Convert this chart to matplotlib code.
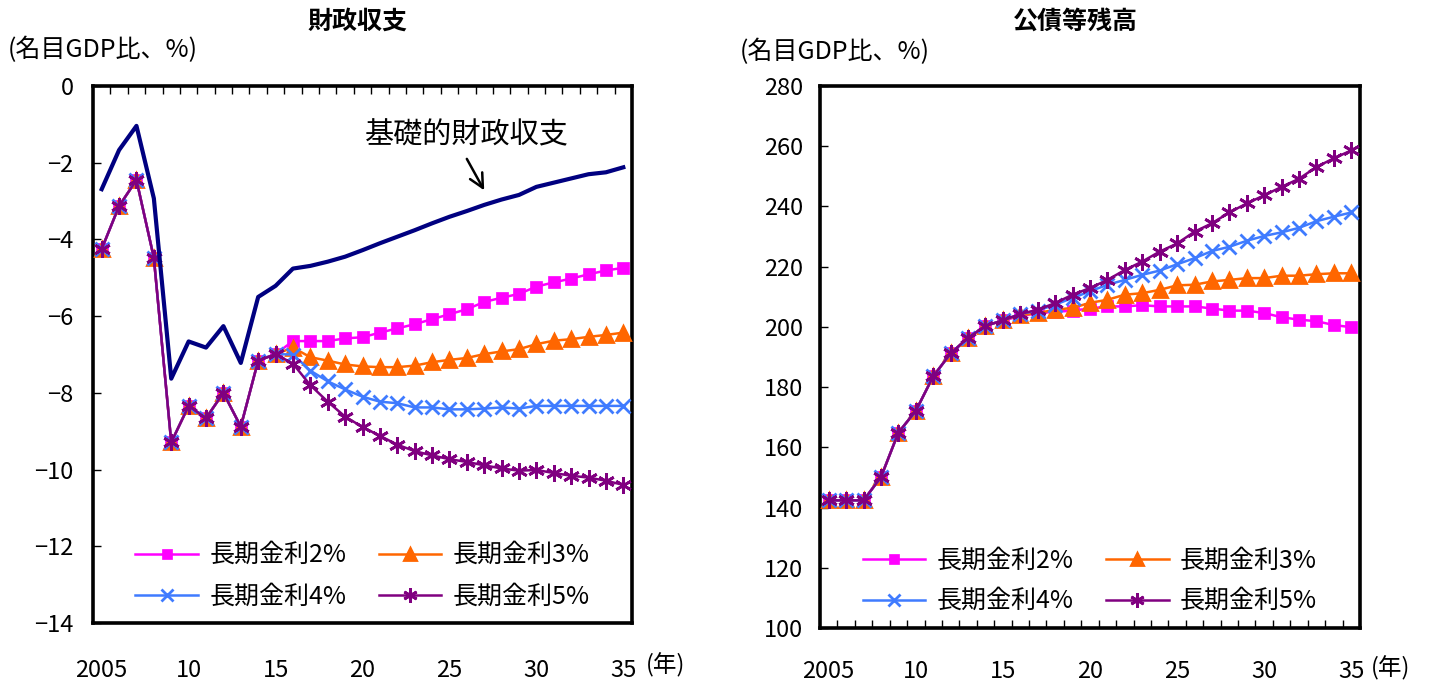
import numpy as np
import matplotlib
matplotlib.use("Agg")
import matplotlib.pyplot as plt

plt.rcParams['font.family'] = ['Noto Sans CJK JP', 'DejaVu Sans']

years = list(range(2005, 2036))

# 財政収支（名目GDP比、%）
primary_balance = [-2.69, -1.67, -1.04, -2.93, -7.63, -6.66, -6.82, -6.26, -7.22, -5.50,
                   -5.21, -4.76, -4.69, -4.58, -4.45, -4.28, -4.10, -3.93, -3.76, -3.58,
                   -3.41, -3.26, -3.10, -2.96, -2.84, -2.63, -2.52, -2.41, -2.30, -2.25, -2.12]
balance_common = [-4.25, -3.13, -2.45, -4.48, -9.29, -8.34, -8.66, -8.00, -8.88, -7.16, -6.99]
balance_2 = [-6.65, -6.65, -6.65, -6.58, -6.55, -6.43, -6.32, -6.21, -6.08, -5.95,
             -5.82, -5.63, -5.52, -5.42, -5.23, -5.12, -5.02, -4.91, -4.81, -4.74]
balance_3 = [-6.82, -7.07, -7.16, -7.26, -7.31, -7.33, -7.33, -7.29, -7.20, -7.14,
             -7.09, -6.99, -6.92, -6.86, -6.73, -6.64, -6.60, -6.54, -6.49, -6.43]
balance_4 = [-7.00, -7.42, -7.70, -7.91, -8.10, -8.23, -8.27, -8.38, -8.38, -8.43,
             -8.43, -8.41, -8.38, -8.41, -8.34, -8.34, -8.34, -8.34, -8.34, -8.34]
balance_5 = [-7.24, -7.80, -8.23, -8.62, -8.89, -9.12, -9.35, -9.52, -9.63, -9.73,
             -9.80, -9.89, -9.97, -10.03, -10.01, -10.09, -10.16, -10.21, -10.29, -10.40]

# 公債等残高（名目GDP比、%）
debt_common = [142.4, 142.4, 142.4, 150.1, 164.9, 172.1, 183.6, 191.2, 196.4, 200.3, 202.2]
debt_2 = [203.5, 204.6, 205.0, 205.4, 206.1, 206.8, 206.8, 207.2, 206.8, 206.8,
          206.8, 206.1, 205.4, 205.4, 204.6, 203.2, 202.4, 201.9, 200.6, 199.9]
debt_3 = [203.9, 204.6, 205.7, 206.3, 208.0, 209.0, 210.7, 211.2, 212.3, 213.8,
          214.0, 215.1, 215.6, 216.2, 216.2, 217.0, 217.0, 217.5, 217.8, 217.8]
debt_4 = [204.3, 205.4, 207.4, 209.6, 211.8, 214.0, 215.6, 217.3, 218.7, 220.8,
          222.8, 225.2, 226.6, 228.6, 230.2, 231.4, 232.9, 235.1, 236.6, 238.0]
debt_5 = [204.3, 205.7, 207.9, 210.7, 212.9, 215.6, 218.9, 221.7, 225.0, 227.7,
          231.6, 234.4, 238.0, 241.0, 243.7, 246.5, 249.2, 253.1, 256.0, 258.6]

labels = ['長期金利2%', '長期金利3%', '長期金利4%', '長期金利5%']
colors = ['#FF00FF', '#FF6600', '#3F7BFF', '#800080']
markers = ['s', '^', 'x', (6, 2, 0)]
msizes = [9, 10, 10, 12]

xtick_years = [2005, 2010, 2015, 2020, 2025, 2030, 2035]
xtick_labels = ['2005', '10', '15', '20', '25', '30', '35']

fig = plt.figure(figsize=(14.36, 6.82), dpi=100)
ax1 = fig.add_axes([93 / 1436, 1 - 623 / 682, 539 / 1436, 537 / 682])
ax2 = fig.add_axes([820 / 1436, 1 - 628 / 682, 540 / 1436, 542 / 682])


def draw_series(ax, common, scenarios):
    lines = []
    for lab, col, mk, ms, tail in zip(labels, colors, markers, msizes, scenarios):
        vals = common + tail
        ln, = ax.plot(years, vals, color=col, lw=1.8, marker=mk, markersize=ms,
                      markeredgewidth=2 if mk != 's' else 0.5, label=lab, zorder=3)
        lines.append(ln)
    return lines


def style_axes(ax, lines, top_ticks):
    ax.set_xlim(2004.5, 2035.5)
    ax.set_xticks(xtick_years)
    ax.set_xticklabels(xtick_labels)
    ax.set_xticks(np.arange(2005.5, 2035, 1), minor=True)
    ax.tick_params(axis='x', which='major', length=0, labelsize=17)
    ax.tick_params(axis='x', which='minor', direction='in', length=6, width=1,
                   top=top_ticks, bottom=not top_ticks)
    ax.tick_params(axis='y', direction='in', length=6, width=1, labelsize=17)
    for sp in ax.spines.values():
        sp.set_linewidth(2.6)
    # 2列の凡例：行方向に 2%,3% / 4%,5% と並べる
    order = [0, 2, 1, 3]
    ax.legend([lines[i] for i in order], [labels[i] for i in order],
              loc='lower center', bbox_to_anchor=(0.5, 0.0), ncol=2,
              frameon=False, fontsize=18, handlelength=2.5, markerscale=0.85,
              columnspacing=1.3, handletextpad=0.45, labelspacing=0.6,
              borderaxespad=0.15)


# 財政収支
ax1.plot(years, primary_balance, color='#000080', lw=3, zorder=4)
lines1 = draw_series(ax1, balance_common, [balance_2, balance_3, balance_4, balance_5])
ax1.set_ylim(-14, 0)
ax1.set_yticks(range(-14, 1, 2))
style_axes(ax1, lines1, top_ticks=True)
ax1.tick_params(axis='x', which='major', pad=26)
ax1.tick_params(axis='y', pad=14)
ax1.text(2026.0, -1.28, '基礎的財政収支', fontsize=21, ha='center', va='center')
ax1.annotate('', xy=(2027.0, -2.72), xytext=(2026.0, -1.9),
             arrowprops=dict(arrowstyle='->', color='black', lw=1.8,
                             mutation_scale=25, shrinkA=0, shrinkB=0))
ax1.text(1.025, -0.078, '(年)', transform=ax1.transAxes, fontsize=17,
         ha='left', va='center')

# 公債等残高
lines2 = draw_series(ax2, debt_common, [debt_2, debt_3, debt_4, debt_5])
ax2.set_ylim(100, 280)
ax2.set_yticks(range(100, 281, 20))
style_axes(ax2, lines2, top_ticks=False)
ax2.tick_params(axis='x', which='major', pad=23)
ax2.tick_params(axis='y', pad=12)
ax2.text(1.02, -0.075, '(年)', transform=ax2.transAxes, fontsize=17,
         ha='left', va='center')

fig.text(357 / 1436, 1 - 22 / 682, '財政収支', fontsize=18, fontweight='bold',
         ha='center', va='center')
fig.text(1075 / 1436, 1 - 22 / 682, '公債等残高', fontsize=18, fontweight='bold',
         ha='center', va='center')
fig.text(8 / 1436, 1 - 50 / 682, '(名目GDP比、%)', fontsize=18, ha='left', va='center')
fig.text(740 / 1436, 1 - 52 / 682, '(名目GDP比、%)', fontsize=18, ha='left', va='center')

fig.savefig('out.png', dpi=100)
